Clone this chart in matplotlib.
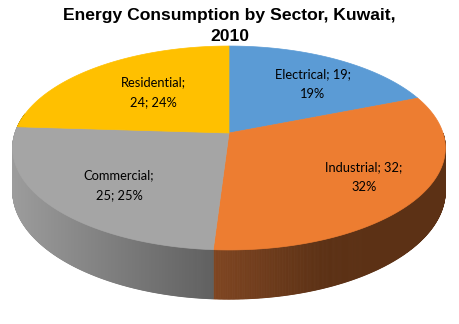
import numpy as np
import matplotlib
matplotlib.use('Agg')
import matplotlib.pyplot as plt
from matplotlib.patches import Polygon
from matplotlib.colors import to_rgb

# data
sectors = ['Electrical', 'Industrial', 'Commercial', 'Residential']
values = [19, 32, 25, 24]
colors = ['#5B9BD5', '#ED7D31', '#A5A5A5', '#FFC000']
# side shading (light end, dark end) for each slice
side_cols = [('#3F6E98', '#2E5272'), ('#7F4521', '#5C3115'),
             ('#9C9C9C', '#606060'), ('#B38700', '#8A6800')]
title = 'Energy Consumption by Sector, Kuwait,\n2010'

# layout in pixels (perspective ellipse)
W, H = 459, 324
cx, cy0 = 229, 133      # projected centre of pie
sx = 214                # horizontal radius
c = 0.147               # perspective factor
q = -80.2               # vertical radius term
h = 42                  # thickness
label_pos = [(313, 84), (364, 177), (119, 185), (153, 92)]


def proj(theta, r=1.0, drop=0.0):
    u = r*np.cos(theta); v = r*np.sin(theta)
    den = 1 + c*v
    return cx + sx*u/den, (cy0 + q*v + drop)/den


fig = plt.figure(figsize=(W/100, H/100), dpi=100)
ax = fig.add_axes([0, 0, 1, 1])
ax.set_xlim(0, W); ax.set_ylim(H, 0)
ax.axis('off')

total = float(sum(values))
starts = []
a0 = np.pi/2
for v in values:
    a1 = a0 - 2*np.pi*v/total
    starts.append((a0, a1))
    a0 = a1

# sides (only front half visible)
for i, (a0, a1) in enumerate(starts):
    th = np.linspace(a0, a1, 400)
    vis = []
    for t in th:
        tt = t % (2*np.pi)
        if np.pi - 0.2 <= tt <= 2*np.pi:
            vis.append(t)
    if len(vis) < 2:
        continue
    vis = np.array(vis)
    xs = [proj(t)[0] for t in vis]
    xmin, xmax = min(xs), max(xs)
    c1 = np.array(to_rgb(side_cols[i][0])); c2 = np.array(to_rgb(side_cols[i][1]))
    for k in range(len(vis)-1):
        t1, t2 = vis[k], vis[k+1]
        x1, y1 = proj(t1); x2, y2 = proj(t2)
        x3, y3 = proj(t2, drop=h); x4, y4 = proj(t1, drop=h)
        xm = 0.5*(x1+x2)
        if i == 1:
            f = np.clip((xm - xmin)/110.0, 0, 1)
        else:
            f = np.clip((xm - xmin)/(xmax - xmin + 1e-9), 0, 1)
        col = c1*(1-f) + c2*f
        ax.add_patch(Polygon([(x1, y1), (x2, y2), (x3, y3), (x4, y4)],
                             closed=True, fc=col, ec=col, lw=0.6))

# top faces
for i, (a0, a1) in enumerate(starts):
    th = np.linspace(a0, a1, 200)
    pts = [proj(0, r=0)] + [proj(t) for t in th]
    ax.add_patch(Polygon(pts, closed=True, fc=colors[i], ec=colors[i], lw=0.5))

# labels
for i, name in enumerate(sectors):
    v = values[i]
    pct = int(round(100*v/total))
    if i < 2:
        txt = f'{name}; {v};\n{pct}%'
    else:
        txt = f'{name};\n{v}; {pct}%'
    ax.text(label_pos[i][0], label_pos[i][1], txt, ha='center', va='center',
            fontsize=9.3, family='Lato', color='black', linespacing=1.75)

ax.text(W/2, 26, title, ha='center', va='center', fontsize=12.6,
        fontweight='bold', family='Liberation Sans', color='black',
        linespacing=1.5)

fig.savefig('out.png', dpi=100)
